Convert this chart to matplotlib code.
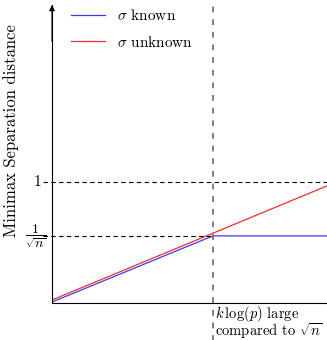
import numpy as np
import matplotlib
matplotlib.use("Agg")
import matplotlib.pyplot as plt

plt.rcParams['font.family'] = 'serif'
plt.rcParams['font.serif'] = ['cmr10']
plt.rcParams['mathtext.fontset'] = 'cm'
plt.rcParams['axes.formatter.use_mathtext'] = True

# -- data (x in units of the axis width, y in units of "1")
threshold = 0.585          # k log(p) ~ sqrt(n)
inv_sqrt_n = 0.554         # level 1/sqrt(n)
y_top = 2.46

known_x = [0.0, threshold, 1.0]
known_y = [0.008, inv_sqrt_n, inv_sqrt_n]
unknown_x = [0.0, 1.0]
unknown_y = [0.025, 0.967]

ytick_vals = [inv_sqrt_n, 1.0]
ytick_labels = [r'$\dfrac{1}{\sqrt{n}}$', '1']
legend_labels = [r'$\sigma$ known', r'$\sigma$ unknown']

# -- figure
fig = plt.figure(figsize=(3.27, 3.40), dpi=100)
W, H = 327, 340
x0, x1, yb, yt = 52, 327, 303, 5
ax = fig.add_axes([x0 / W, 1 - yb / H, (x1 - x0) / W, (yb - yt) / H])
ax.set_xlim(0, 1)
ax.set_ylim(0, y_top)
for s in ['top', 'right']:
    ax.spines[s].set_visible(False)
for s in ['left', 'bottom']:
    ax.spines[s].set_linewidth(0.8)
ax.set_xticks([])
ax.set_yticks([])

# arrow on the y axis
ax.annotate('', xy=(0, y_top), xytext=(0, y_top - 0.3),
            arrowprops=dict(arrowstyle='-|>', color='black', lw=0.8,
                            mutation_scale=8, shrinkA=0, shrinkB=0),
            annotation_clip=False)

# -- curves
ax.plot(known_x, known_y, color='#3a3aff', lw=0.9, label=legend_labels[0])
ax.plot(unknown_x, unknown_y, color='#ff2a2a', lw=0.9, label=legend_labels[1])

# -- guide lines
x_left = -9 / (x1 - x0)
ax.plot([x_left, 1], [1, 1], ls=(0, (4, 3)), color='black', lw=0.8, clip_on=False)
ax.plot([x_left, threshold], [inv_sqrt_n, inv_sqrt_n], ls=(0, (4, 3)),
        color='black', lw=0.8, clip_on=False)
ax.plot([threshold, threshold], [-0.31, 2.52], ls=(0, (3, 3.5)), color='gray',
        lw=1.4, clip_on=False)

# -- labels
ax.text(-0.038, ytick_vals[1], ytick_labels[1], ha='right', va='center', fontsize=11)
ax.text(-0.02, ytick_vals[0], ytick_labels[0], ha='right', va='center', fontsize=10)

ax.text(threshold + 0.008, -0.01, '$k\\,\\log(p)$ large\ncompared to $\\sqrt{n}$',
        ha='left', va='top', fontsize=10.5, linespacing=0.8)

ax.text(-0.15, 1.42, 'Minimax Separation distance', rotation=90,
        ha='center', va='center', fontsize=12)

leg = ax.legend(loc='upper left', bbox_to_anchor=(0.02, 1.035), frameon=False,
                fontsize=11, handlelength=2.2, handletextpad=0.8, labelspacing=0.75)

fig.savefig('out.png', dpi=100)
